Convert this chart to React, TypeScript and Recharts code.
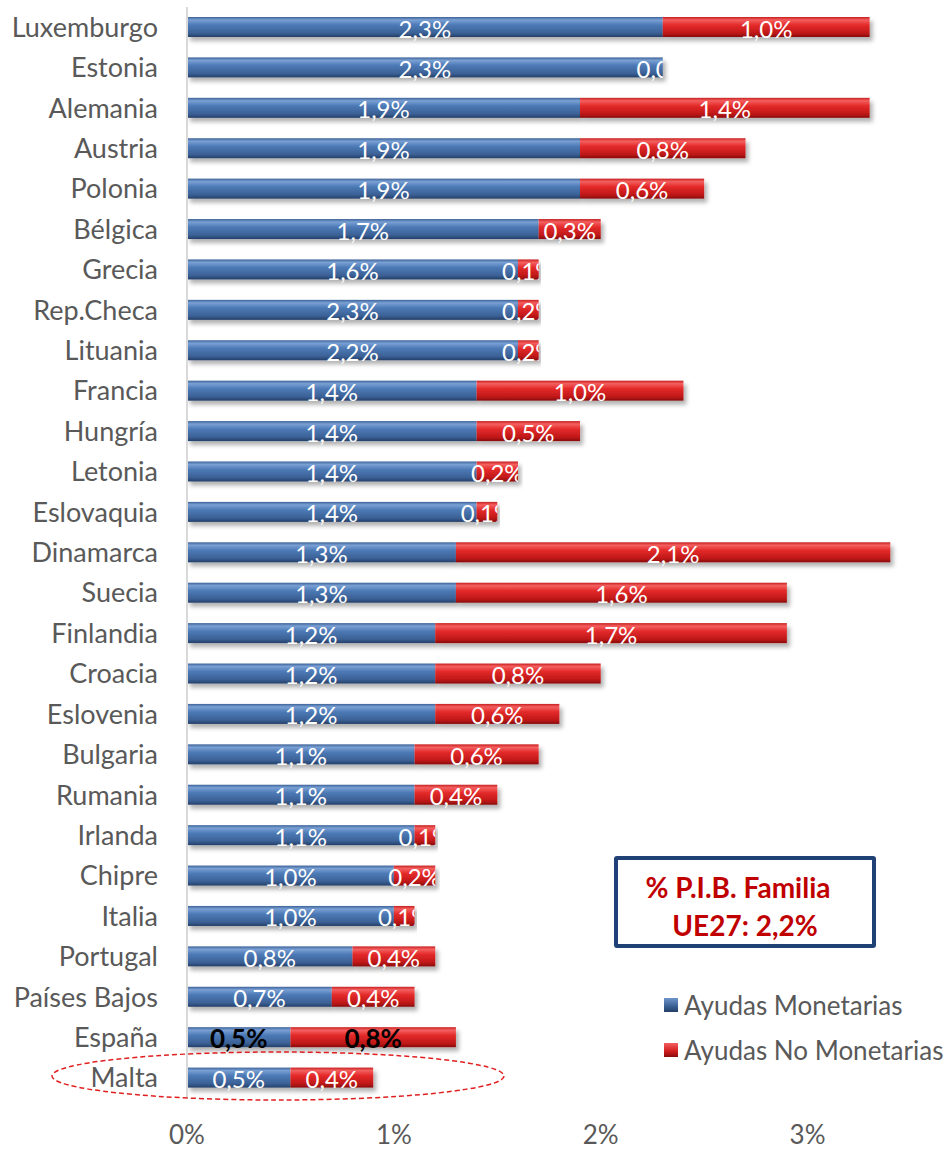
import { BarChart, Bar, XAxis, YAxis, LabelList } from 'recharts'

const countries = [
  'Luxemburgo', 'Estonia', 'Alemania', 'Austria', 'Polonia', 'Bélgica', 'Grecia', 'Rep.Checa', 'Lituania',
  'Francia', 'Hungría', 'Letonia', 'Eslovaquia', 'Dinamarca', 'Suecia', 'Finlandia', 'Croacia', 'Eslovenia',
  'Bulgaria', 'Rumania', 'Irlanda', 'Chipre', 'Italia', 'Portugal', 'Países Bajos', 'España', 'Malta',
]

// bar lengths as drawn in the picture (% PIB)
const monetarias = [2.3, 2.3, 1.9, 1.9, 1.9, 1.7, 1.6, 1.6, 1.6, 1.4, 1.4, 1.4, 1.4, 1.3, 1.3, 1.2, 1.2, 1.2, 1.1, 1.1, 1.1, 1.0, 1.0, 0.8, 0.7, 0.5, 0.5]
const noMonetarias = [1.0, 0, 1.4, 0.8, 0.6, 0.3, 0.1, 0.1, 0.1, 1.0, 0.5, 0.2, 0.1, 2.1, 1.6, 1.7, 0.8, 0.6, 0.6, 0.4, 0.1, 0.2, 0.1, 0.4, 0.4, 0.8, 0.4]

// printed data labels
const monetariasLabels = ['2,3%', '2,3%', '1,9%', '1,9%', '1,9%', '1,7%', '1,6%', '2,3%', '2,2%', '1,4%', '1,4%', '1,4%', '1,4%', '1,3%', '1,3%', '1,2%', '1,2%', '1,2%', '1,1%', '1,1%', '1,1%', '1,0%', '1,0%', '0,8%', '0,7%', '0,5%', '0,5%']
const noMonetariasLabels = ['1,0%', '0,0%', '1,4%', '0,8%', '0,6%', '0,3%', '0,1%', '0,2%', '0,2%', '1,0%', '0,5%', '0,2%', '0,1%', '2,1%', '1,6%', '1,7%', '0,8%', '0,6%', '0,6%', '0,4%', '0,1%', '0,2%', '0,1%', '0,4%', '0,4%', '0,8%', '0,4%']

const xTicks = [0, 1, 2, 3]

const data = countries.map((country, i) => ({
  country,
  mon: monetarias[i],
  noMon: noMonetarias[i],
  monLabel: monetariasLabels[i],
  noMonLabel: noMonetariasLabels[i],
}))

const FONT = 'Lato, "Open Sans", sans-serif'
const HIGHLIGHT = 'España'

function BarShape(props: any) {
  const { x, y, width, height, grad } = props
  if (!width || width <= 0) return null
  return (
    <g filter="url(#barShadow)">
      <rect x={x} y={y} width={width} height={height} fill={`url(#${grad})`} />
    </g>
  )
}

function makeLabel(prefix: string) {
  return (props: any) => {
    const { x, y, width, height, value, index } = props
    const bold = countries[index] === HIGHLIGHT
    const id = `${prefix}-clip-${index}`
    return (
      <g>
        <defs>
          <clipPath id={id}>
            <rect x={0} y={y - 10} width={x + width} height={height + 20} />
          </clipPath>
        </defs>
        <text
          x={x + width / 2}
          y={y + height / 2 + 1}
          textAnchor="middle"
          dominantBaseline="central"
          clipPath={`url(#${id})`}
          fill={bold ? '#000' : '#fff'}
          fontWeight={bold ? 700 : 400}
          fontSize={bold ? 26 : 24}
          fontFamily={FONT}
        >
          {value}
        </text>
      </g>
    )
  }
}

export default function App() {
  return (
    <div style={{ position: 'absolute', left: 0, top: 0, width: 946, height: 1151, background: '#fff', fontFamily: FONT }}>
      <BarChart
        width={946}
        height={1151}
        data={data}
        layout="vertical"
        barSize={20}
        margin={{ top: 7, right: 35, left: 0, bottom: 13 }}
      >
        <defs>
          <linearGradient id="gradBlue" x1="0" y1="0" x2="0" y2="1">
            <stop offset="0%" stopColor="#3d6399" />
            <stop offset="15%" stopColor="#7aa0d4" />
            <stop offset="40%" stopColor="#4d7ab6" />
            <stop offset="80%" stopColor="#3b6196" />
            <stop offset="100%" stopColor="#243f68" />
          </linearGradient>
          <linearGradient id="gradRed" x1="0" y1="0" x2="0" y2="1">
            <stop offset="0%" stopColor="#c82020" />
            <stop offset="15%" stopColor="#f46060" />
            <stop offset="40%" stopColor="#e42a2a" />
            <stop offset="80%" stopColor="#c01818" />
            <stop offset="100%" stopColor="#8a0c0c" />
          </linearGradient>
          <filter id="barShadow" x="-5%" y="-30%" width="115%" height="180%">
            <feDropShadow dx="3" dy="4" stdDeviation="2" floodColor="#000" floodOpacity="0.3" />
          </filter>
        </defs>
        <XAxis
          type="number"
          domain={[0, 3.5]}
          ticks={xTicks}
          tickFormatter={(v: number) => `${v}%`}
          axisLine={false}
          tickLine={false}
          tickMargin={22}
          height={40}
          tick={{ fill: '#595959', fontSize: 26, fontFamily: FONT }}
        />
        <YAxis
          type="category"
          dataKey="country"
          width={187}
          axisLine={{ stroke: '#d9d9d9', strokeWidth: 2 }}
          tickLine={false}
          tickMargin={23}
          interval={0}
          tick={{ fill: '#595959', fontSize: 27, fontFamily: FONT }}
        />
        <Bar dataKey="mon" stackId="a" isAnimationActive={false} shape={(p: any) => <BarShape {...p} grad="gradBlue" />}>
          <LabelList dataKey="monLabel" content={makeLabel('mon')} />
        </Bar>
        <Bar dataKey="noMon" stackId="a" isAnimationActive={false} shape={(p: any) => <BarShape {...p} grad="gradRed" />}>
          <LabelList dataKey="noMonLabel" content={makeLabel('nomon')} />
        </Bar>
      </BarChart>

      {/* annotation box */}
      <div
        style={{
          position: 'absolute', left: 614, top: 856, width: 262, height: 92, boxSizing: 'border-box',
          border: '4px solid #1f4176', borderRadius: 3, color: '#c00000', fontWeight: 700, fontSize: 28,
          lineHeight: '38px', textAlign: 'center', paddingTop: 8, whiteSpace: 'nowrap',
        }}
      >
        <div style={{ marginLeft: -14 }}>% P.I.B. Familia</div>
        <div>UE27: 2,2%</div>
      </div>

      {/* legend */}
      {[
        { name: 'Ayudas Monetarias', grad: 'linear-gradient(#6f96cc, #3a5f93 60%, #243f68)', top: 990 },
        { name: 'Ayudas No Monetarias', grad: 'linear-gradient(#f46060, #d01c1c 60%, #8a0c0c)', top: 1035 },
      ].map((l) => (
        <div key={l.name} style={{ position: 'absolute', left: 664, top: l.top, height: 30, display: 'flex', alignItems: 'center', whiteSpace: 'nowrap' }}>
          <span style={{ display: 'inline-block', width: 14, height: 14, background: l.grad, marginRight: 6 }} />
          <span style={{ color: '#595959', fontSize: 26 }}>{l.name}</span>
        </div>
      ))}

      {/* dashed ellipse around Malta */}
      <svg width={946} height={1151} style={{ position: 'absolute', left: 0, top: 0, pointerEvents: 'none' }}>
        <ellipse cx={278} cy={1076} rx={226} ry={24} fill="none" stroke="#e02020" strokeWidth={1.5} strokeDasharray="5 3" />
      </svg>
    </div>
  )
}
